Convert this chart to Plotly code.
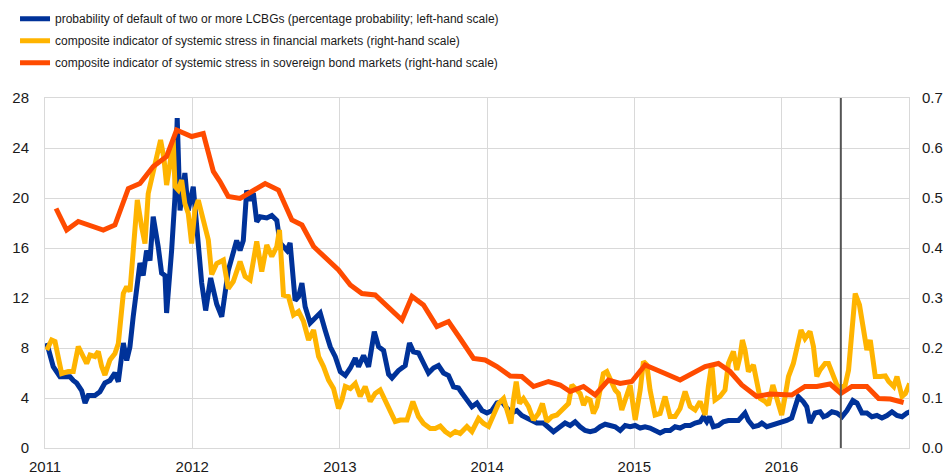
import pandas as pd
import plotly.graph_objects as go

# ---- data (decimal years, values) ----
blue_t = [2011.012, 2011.056, 2011.102, 2011.170, 2011.192, 2011.215, 2011.249, 2011.272, 2011.294, 2011.339,
          2011.373, 2011.407, 2011.441, 2011.475, 2011.498, 2011.532, 2011.555, 2011.577, 2011.599, 2011.645,
          2011.667, 2011.690, 2011.713, 2011.735, 2011.769, 2011.792, 2011.815, 2011.826, 2011.860, 2011.883,
          2011.898, 2011.917, 2011.950, 2011.973, 2012.007, 2012.041, 2012.064, 2012.091, 2012.125, 2012.166,
          2012.200, 2012.244, 2012.278, 2012.301, 2012.324, 2012.346, 2012.369, 2012.392, 2012.414, 2012.437,
          2012.460, 2012.505, 2012.539, 2012.573, 2012.595, 2012.641, 2012.663, 2012.697, 2012.720, 2012.743,
          2012.765, 2012.799, 2012.833, 2012.867, 2012.901, 2012.935, 2012.969, 2013.003, 2013.037, 2013.071,
          2013.105, 2013.127, 2013.161, 2013.195, 2013.234, 2013.263, 2013.297, 2013.331, 2013.354, 2013.398,
          2013.444, 2013.473, 2013.500, 2013.534, 2013.568, 2013.602, 2013.636, 2013.670, 2013.704, 2013.738,
          2013.772, 2013.806, 2013.829, 2013.863, 2013.897, 2013.931, 2013.965, 2013.999, 2014.033, 2014.067,
          2014.101, 2014.134, 2014.168, 2014.202, 2014.236, 2014.270, 2014.304, 2014.338, 2014.383, 2014.417,
          2014.451, 2014.485, 2014.530, 2014.564, 2014.598, 2014.632, 2014.666, 2014.700, 2014.734, 2014.768,
          2014.802, 2014.836, 2014.870, 2014.904, 2014.938, 2014.972, 2015.006, 2015.040, 2015.073, 2015.107,
          2015.141, 2015.175, 2015.209, 2015.243, 2015.277, 2015.311, 2015.345, 2015.379, 2015.413, 2015.447,
          2015.469, 2015.492, 2015.510, 2015.537, 2015.571, 2015.605, 2015.639, 2015.673, 2015.707, 2015.730,
          2015.752, 2015.775, 2015.809, 2015.843, 2015.866, 2015.900, 2015.934, 2015.968, 2016.001, 2016.035,
          2016.069, 2016.092, 2016.114, 2016.148, 2016.171, 2016.193, 2016.227, 2016.261, 2016.284, 2016.307,
          2016.341, 2016.375, 2016.409, 2016.443, 2016.483, 2016.511, 2016.545, 2016.578, 2016.612, 2016.646,
          2016.680, 2016.714, 2016.748, 2016.782, 2016.816, 2016.850, 2016.872]
blue_v = [8.4, 6.5, 5.7, 5.7, 5.4, 5.2, 4.6, 3.6, 4.2, 4.2,
          4.5, 5.2, 5.4, 6.0, 5.3, 8.4, 7.0, 8.1, 10.5, 14.8,
          13.8, 15.8, 15.0, 18.5, 16.1, 14.0, 13.8, 10.8, 15.8, 20.1,
          26.4, 19.0, 22.0, 19.0, 20.9, 16.6, 13.2, 11.0, 13.6, 11.5,
          10.5, 14.2, 15.6, 16.6, 15.8, 16.6, 20.6, 19.8, 20.4, 18.1,
          18.5, 18.4, 18.6, 18.2, 16.4, 15.8, 16.4, 11.8, 12.1, 13.2,
          11.3, 10.0, 10.4, 10.8, 9.4, 8.1, 7.3, 6.1, 5.8, 6.4,
          7.2, 6.5, 7.4, 6.5, 9.3, 8.1, 7.8, 5.9, 5.6, 6.2,
          6.6, 8.4, 7.7, 7.6, 6.8, 6.0, 6.4, 6.6, 6.0, 5.8,
          4.9, 4.8, 4.4, 3.8, 3.3, 3.6, 3.0, 2.8, 3.0, 3.6,
          3.7, 3.2, 2.8, 3.0, 2.6, 2.4, 2.2, 2.0, 2.0, 1.7,
          1.3, 1.6, 2.0, 1.8, 2.1, 1.7, 1.4, 1.3, 1.4, 1.7,
          1.9, 1.8, 1.7, 1.4, 1.8, 1.7, 1.8, 1.6, 1.7, 1.6,
          1.4, 1.2, 1.4, 1.4, 1.7, 1.6, 1.8, 1.8, 2.0, 2.1,
          2.5, 2.1, 2.5, 1.7, 1.8, 2.1, 2.2, 2.2, 2.2, 2.5,
          2.8, 2.2, 1.7, 1.8, 2.0, 1.7, 1.8, 2.0, 2.0, 2.2,
          2.4, 3.3, 4.1, 3.7, 3.3, 2.0, 2.8, 2.9, 2.5, 2.6,
          2.9, 2.8, 2.5, 3.0, 3.8, 3.6, 2.8, 2.8, 2.5, 2.6,
          2.4, 2.6, 2.9, 2.6, 2.5, 2.8, 2.9]

yellow_t = [2011.012, 2011.045, 2011.068, 2011.090, 2011.113, 2011.158, 2011.192, 2011.226, 2011.260, 2011.283,
            2011.306, 2011.339, 2011.362, 2011.385, 2011.407, 2011.441, 2011.475, 2011.498, 2011.532, 2011.555,
            2011.577, 2011.599, 2011.627, 2011.656, 2011.679, 2011.701, 2011.735, 2011.758, 2011.785, 2011.808,
            2011.826, 2011.849, 2011.871, 2011.883, 2011.905, 2011.928, 2011.950, 2011.973, 2011.996, 2012.018,
            2012.041, 2012.075, 2012.109, 2012.132, 2012.166, 2012.211, 2012.244, 2012.278, 2012.324, 2012.358,
            2012.392, 2012.437, 2012.471, 2012.505, 2012.539, 2012.573, 2012.591, 2012.618, 2012.652, 2012.686,
            2012.720, 2012.754, 2012.788, 2012.822, 2012.856, 2012.889, 2012.923, 2012.957, 2012.991, 2013.014,
            2013.037, 2013.071, 2013.105, 2013.138, 2013.172, 2013.206, 2013.240, 2013.274, 2013.308, 2013.342,
            2013.376, 2013.410, 2013.456, 2013.496, 2013.534, 2013.568, 2013.614, 2013.648, 2013.682, 2013.716,
            2013.750, 2013.784, 2013.817, 2013.863, 2013.897, 2013.942, 2013.976, 2014.010, 2014.044, 2014.078,
            2014.112, 2014.134, 2014.162, 2014.179, 2014.198, 2014.220, 2014.247, 2014.281, 2014.315, 2014.349,
            2014.376, 2014.406, 2014.440, 2014.474, 2014.496, 2014.530, 2014.553, 2014.576, 2014.610, 2014.632,
            2014.655, 2014.678, 2014.700, 2014.722, 2014.745, 2014.768, 2014.790, 2014.813, 2014.836, 2014.870,
            2014.892, 2014.915, 2014.938, 2014.972, 2015.006, 2015.040, 2015.062, 2015.085, 2015.107, 2015.141,
            2015.175, 2015.209, 2015.243, 2015.277, 2015.311, 2015.345, 2015.379, 2015.413, 2015.447, 2015.481,
            2015.503, 2015.526, 2015.548, 2015.582, 2015.616, 2015.639, 2015.673, 2015.696, 2015.718, 2015.734,
            2015.752, 2015.775, 2015.809, 2015.832, 2015.855, 2015.889, 2015.911, 2015.941, 2015.968, 2016.001,
            2016.024, 2016.047, 2016.080, 2016.103, 2016.132, 2016.159, 2016.193, 2016.216, 2016.239, 2016.261,
            2016.295, 2016.318, 2016.352, 2016.375, 2016.397, 2016.431, 2016.454, 2016.477, 2016.499, 2016.528,
            2016.556, 2016.578, 2016.601, 2016.624, 2016.635, 2016.669, 2016.703, 2016.726, 2016.760, 2016.782,
            2016.816, 2016.839, 2016.868]
yellow_v = [0.196, 0.216, 0.213, 0.176, 0.149, 0.153, 0.153, 0.203, 0.183, 0.169,
            0.186, 0.183, 0.193, 0.163, 0.146, 0.176, 0.189, 0.209, 0.309, 0.323,
            0.313, 0.403, 0.496, 0.443, 0.409, 0.509, 0.556, 0.576, 0.616, 0.579,
            0.526, 0.569, 0.616, 0.523, 0.516, 0.536, 0.489, 0.469, 0.409, 0.476,
            0.496, 0.456, 0.416, 0.347, 0.369, 0.376, 0.319, 0.333, 0.373, 0.343,
            0.336, 0.413, 0.353, 0.406, 0.383, 0.403, 0.436, 0.306, 0.303, 0.266,
            0.273, 0.253, 0.216, 0.236, 0.183, 0.163, 0.136, 0.119, 0.079, 0.096,
            0.123, 0.119, 0.129, 0.103, 0.123, 0.093, 0.109, 0.116, 0.096, 0.076,
            0.053, 0.056, 0.056, 0.093, 0.063, 0.049, 0.039, 0.039, 0.044, 0.033,
            0.026, 0.033, 0.029, 0.043, 0.033, 0.059, 0.049, 0.043, 0.069, 0.089,
            0.099, 0.076, 0.049, 0.096, 0.133, 0.089, 0.099, 0.083, 0.056, 0.069,
            0.089, 0.053, 0.063, 0.066, 0.073, 0.083, 0.089, 0.126, 0.116, 0.109,
            0.086, 0.099, 0.096, 0.069, 0.083, 0.123, 0.149, 0.153, 0.139, 0.116,
            0.109, 0.076, 0.096, 0.126, 0.056, 0.116, 0.173, 0.166, 0.116, 0.066,
            0.069, 0.103, 0.063, 0.063, 0.079, 0.113, 0.083, 0.076, 0.093, 0.066,
            0.123, 0.169, 0.096, 0.103, 0.116, 0.169, 0.193, 0.156, 0.183, 0.216,
            0.196, 0.153, 0.166, 0.129, 0.099, 0.093, 0.086, 0.126, 0.099, 0.066,
            0.103, 0.143, 0.169, 0.203, 0.236, 0.219, 0.233, 0.203, 0.143, 0.156,
            0.169, 0.169, 0.139, 0.126, 0.119, 0.126, 0.156, 0.249, 0.309, 0.286,
            0.229, 0.196, 0.216, 0.169, 0.143, 0.143, 0.144, 0.133, 0.123, 0.143,
            0.103, 0.109, 0.129]

red_t = [2011.075, 2011.147, 2011.226, 2011.396, 2011.475, 2011.566, 2011.645, 2011.735, 2011.826, 2011.894,
         2011.996, 2012.075, 2012.143, 2012.188, 2012.244, 2012.324, 2012.494, 2012.584, 2012.675, 2012.743,
         2012.822, 2012.923, 2012.991, 2013.071, 2013.150, 2013.240, 2013.342, 2013.422, 2013.490, 2013.568,
         2013.659, 2013.738, 2013.817, 2013.908, 2013.987, 2014.067, 2014.157, 2014.236, 2014.315, 2014.417,
         2014.496, 2014.564, 2014.655, 2014.734, 2014.824, 2014.904, 2014.983, 2015.073, 2015.209, 2015.311,
         2015.481, 2015.571, 2015.650, 2015.730, 2015.832, 2015.922, 2016.069, 2016.159, 2016.239, 2016.329,
         2016.402, 2016.477, 2016.578, 2016.658, 2016.737, 2016.827]
red_v = [0.479, 0.436, 0.453, 0.436, 0.446, 0.519, 0.529, 0.563, 0.583, 0.636,
         0.623, 0.629, 0.553, 0.533, 0.503, 0.499, 0.529, 0.516, 0.456, 0.446,
         0.403, 0.373, 0.356, 0.326, 0.309, 0.306, 0.276, 0.256, 0.303, 0.286,
         0.243, 0.253, 0.219, 0.179, 0.176, 0.163, 0.144, 0.143, 0.123, 0.133,
         0.126, 0.113, 0.123, 0.106, 0.136, 0.129, 0.133, 0.166, 0.149, 0.136,
         0.163, 0.169, 0.153, 0.126, 0.103, 0.108, 0.106, 0.123, 0.123, 0.128,
         0.109, 0.123, 0.123, 0.099, 0.098, 0.091]

marker_date = "2016-05-27"
x_start, x_end = "2011-01-01", "2016-11-12"
year_ticks = ["2011-01-01", "2012-01-01", "2013-01-01", "2014-01-01", "2015-01-01", "2016-01-01"]
year_labels = ["2011", "2012", "2013", "2014", "2015", "2016"]

names = ["probability of default of two or more LCBGs (percentage probability; left-hand scale)",
         "composite indicator of systemic stress in financial markets (right-hand scale)",
         "composite indicator of systemic stress in sovereign bond markets (right-hand scale)"]


def to_dates(dec):
    out = []
    for d in dec:
        y = int(d)
        s = pd.Timestamp(year=y, month=1, day=1)
        e = pd.Timestamp(year=y + 1, month=1, day=1)
        out.append(s + (e - s) * (d - y))
    return out


BLUE, YELLOW, RED = "#003299", "#FFB400", "#FF4B00"
FONT = "Liberation Sans, Arial, sans-serif"
GRID = "#d9d9d9"

fig = go.Figure()
fig.add_trace(go.Scatter(x=to_dates(blue_t), y=blue_v, name=names[0], mode="lines", legendgroup="a",
                         line=dict(color=BLUE, width=5), yaxis="y"))
fig.add_trace(go.Scatter(x=to_dates(yellow_t), y=yellow_v, name=names[1], mode="lines", legendgroup="b",
                         line=dict(color=YELLOW, width=5), yaxis="y2"))
fig.add_trace(go.Scatter(x=to_dates(red_t), y=red_v, name=names[2], mode="lines", legendgroup="c",
                         line=dict(color=RED, width=5), yaxis="y2"))

fig.add_shape(type="line", xref="x", yref="paper", x0=marker_date, x1=marker_date, y0=0, y1=1,
              line=dict(color="#555555", width=2))

fig.update_layout(
    width=947, height=475,
    margin=dict(l=45, r=38, t=98, b=27, autoexpand=False),
    paper_bgcolor="white", plot_bgcolor="white",
    font=dict(family=FONT, size=15, color="#1a1a1a"),
    showlegend=True,
    legend=dict(x=-0.0347, y=1.268, xanchor="left", yanchor="top",
                font=dict(family=FONT, size=12, color="#1a1a1a"),
                tracegroupgap=3, itemwidth=30, bgcolor="rgba(0,0,0,0)"),
    xaxis=dict(type="date", range=[x_start, x_end], tickvals=year_ticks, ticktext=year_labels,
               showgrid=True, gridcolor=GRID, gridwidth=1, showline=True, linecolor=GRID, mirror=True,
               ticks="", ticklabelstandoff=5, zeroline=False,
               tickfont=dict(family=FONT, size=15)),
    yaxis=dict(range=[0, 28], dtick=4, tick0=0, showgrid=True, gridcolor=GRID, gridwidth=1,
               showline=True, linecolor=GRID, mirror=True, ticks="", ticklabelstandoff=12, zeroline=False,
               tickfont=dict(family=FONT, size=15)),
    yaxis2=dict(range=[0, 0.7], dtick=0.1, tick0=0, tickformat=".1f", overlaying="y", side="right",
                showgrid=False, ticks="", ticklabelstandoff=12, zeroline=False,
                tickfont=dict(family=FONT, size=15)),
)

fig.write_html("out.html", config={"displayModeBar": False},
               post_script="document.body.style.margin='0';")
